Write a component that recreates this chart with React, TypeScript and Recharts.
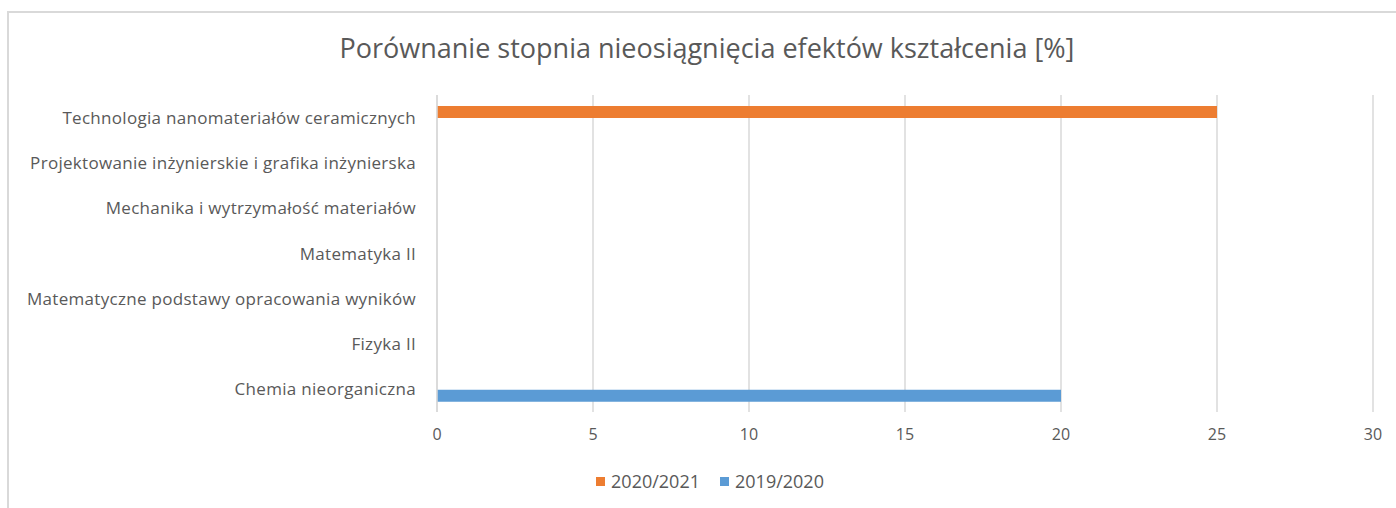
import React from "react";
import { BarChart, Bar, XAxis, YAxis, CartesianGrid, Legend } from "recharts";

const categories = [
  "Technologia nanomateriałów ceramicznych",
  "Projektowanie inżynierskie i grafika inżynierska",
  "Mechanika i wytrzymałość materiałów",
  "Matematyka II",
  "Matematyczne podstawy opracowania wyników",
  "Fizyka II",
  "Chemia nieorganiczna",
];
const values2020_2021 = [25, 0, 0, 0, 0, 0, 0];
const values2019_2020 = [0, 0, 0, 0, 0, 0, 20];
const xTicks = [0, 5, 10, 15, 20, 25, 30];
const title = "Porównanie stopnia nieosiągnięcia efektów kształcenia [%]";
const seriesNames = ["2020/2021", "2019/2020"];
const seriesColors = ["#ED7D31", "#5B9BD5"];

const data = categories.map((name, i) => ({
  name,
  a: values2020_2021[i],
  b: values2019_2020[i],
}));

const FONT = "'Open Sans', sans-serif";
const TEXT = "#595959";

const LegendContent = () => (
  <div
    style={{
      display: "flex",
      justifyContent: "center",
      alignItems: "center",
      fontFamily: FONT,
      fontSize: 18,
      color: TEXT,
      gap: 20,
    }}
  >
    {seriesNames.map((n, i) => (
      <div key={n} style={{ display: "flex", alignItems: "center", gap: 6 }}>
        <span style={{ width: 9, height: 9, background: seriesColors[i], display: "inline-block" }} />
        <span>{n}</span>
      </div>
    ))}
  </div>
);

export default function App() {
  return (
    <div
      style={{
        position: "absolute",
        left: 0,
        top: 0,
        width: 1396,
        height: 508,
        overflow: "hidden",
        background: "#fff",
        fontFamily: FONT,
      }}
    >
      <div
        style={{
          position: "absolute",
          left: 7,
          top: 11,
          width: 1500,
          height: 600,
          border: "2px solid #d9d9d9",
          boxSizing: "border-box",
        }}
      />
      <div
        style={{
          position: "absolute",
          left: 0,
          width: 1414,
          top: 28,
          textAlign: "center",
          fontSize: 27,
          color: TEXT,
          lineHeight: "40px",
        }}
      >
        {title}
      </div>
      <div style={{ position: "absolute", left: 0, top: 0 }}>
        <BarChart
          width={1396}
          height={508}
          data={data}
          layout="vertical"
          margin={{ top: 95, right: 23, bottom: 66, left: 0 }}
          barGap={0}
          barSize={12}
        >
          <CartesianGrid horizontal={false} stroke="#d9d9d9" strokeWidth={1.5} />
          <XAxis
            type="number"
            domain={[0, 30]}
            ticks={xTicks}
            height={30}
            axisLine={false}
            tickLine={false}
            tickSize={0}
            tickMargin={17}
            tick={{ fill: TEXT, fontSize: 16, fontFamily: FONT }}
            interval={0}
          />
          <YAxis
            type="category"
            dataKey="name"
            width={437}
            axisLine={{ stroke: "#d9d9d9", strokeWidth: 1.5 }}
            tickLine={false}
            tickSize={0}
            tickMargin={21}
            interval={0}
            tick={{ fill: TEXT, fontSize: 17, fontFamily: FONT, letterSpacing: 0.3 }}
          />
          <Bar dataKey="a" name={seriesNames[0]} fill={seriesColors[0]} isAnimationActive={false} />
          <Bar dataKey="b" name={seriesNames[1]} fill={seriesColors[1]} isAnimationActive={false} />
          <Legend
            verticalAlign="middle"
            content={<LegendContent />}
            wrapperStyle={{ position: "absolute", top: 469, left: 0, width: 1420 }}
          />
        </BarChart>
      </div>
    </div>
  );
}
